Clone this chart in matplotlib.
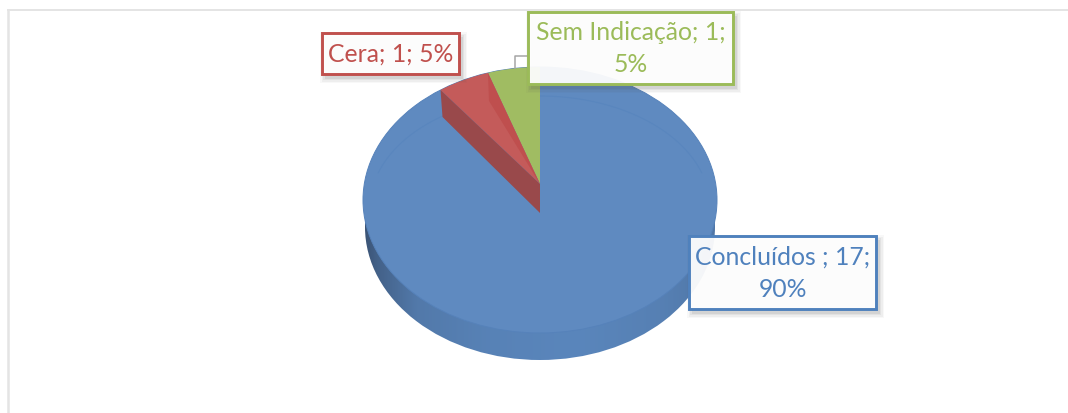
import numpy as np
import matplotlib
matplotlib.use('Agg')
import matplotlib.pyplot as plt
from matplotlib.patches import Ellipse, Polygon, Rectangle

# data, green and red run counterclockwise from 12 o'clock, blue is the rest
names = ['Sem Indicação', 'Cera', 'Concluídos ']
counts = [1, 1, 17]
percents = [5, 5, 90]
line_breaks = ['\n', ' ', '\n']

green = '#9BBB59'
red = '#C0504D'
blue = '#4F81BD'

cx, cy = 540, 200
rx, ry = 177, 133
depth = 27
foreshorten = 0.95  # slices look a bit narrower in the tilted view

plt.rcParams['font.family'] = ['Lato', 'DejaVu Sans']

fig = plt.figure(figsize=(10.68, 4.13), dpi=100)
ax = fig.add_axes([0, 0, 1, 1])
ax.set_xlim(0, 1068)
ax.set_ylim(413, 0)
ax.axis('off')


def rim(angle_deg):
    a = np.radians(angle_deg * foreshorten)
    return cx - rx * np.sin(a), cy - ry * np.cos(a)


# chart frame
ax.plot([8, 8], [413, 10], color='#e4e4e4', lw=1.8, solid_capstyle='butt')
ax.plot([7, 1068], [9.5, 9.5], color='#e4e4e4', lw=1.4, solid_capstyle='butt')

# side of the disc, darker on the left
band = Ellipse((cx, cy + depth), 2 * rx - 4, 2 * ry, fc='none', ec='none')
ax.add_patch(band)
grad = np.interp(np.linspace(0, 1, 256), [0, 0.04, 0.15, 0.35, 0.6, 0.85, 1], [0, 0.3, 0.75, 0.92, 1, 0.88, 0.7])
c_dark = np.array(matplotlib.colors.to_rgb('#3a5273'))
c_light = np.array(matplotlib.colors.to_rgb('#5a86bc'))
img = np.array([[c_dark + (c_light - c_dark) * g for g in grad]])
im = ax.imshow(img, extent=[cx - rx, cx + rx, cy + depth + ry, cy], aspect='auto', zorder=1)
im.set_clip_path(band)
ax.set_xlim(0, 1068)
ax.set_ylim(413, 0)

# top face
ax.add_patch(Ellipse((cx, cy), 2 * rx, 2 * ry, fc='#5f8ac0', ec='#5682ba', lw=0.7, zorder=2))

# faint inner rim
t = np.radians(np.linspace(-72, 72, 200))
ax.plot(cx + 170 * np.sin(t), 207 - 111 * np.cos(t), color='#5986be', lw=0.8, zorder=3)

# slices
a_green = percents[0] / 100 * 360
a_red = a_green + percents[1] / 100 * 360
apex = (cx, cy - 16)
low_apex = (cx, cy + 13)

arc_green = [rim(a) for a in np.linspace(0, a_green, 20)]
arc_red = [rim(a) for a in np.linspace(a_green, a_red, 20)]

ax.add_patch(Polygon(arc_green + [apex], fc='#a0bc62', ec='none', zorder=4))
ax.add_patch(Polygon(arc_red + [apex], fc='#c45b5a', ec='none', zorder=4))

p_g = arc_green[-1]
ax.add_patch(Polygon([p_g, (p_g[0] + 1, p_g[1] + 28), apex], fc='#bf4f4e', ec='none', zorder=5))
p_r = arc_red[-1]
ax.add_patch(Polygon([p_r, (p_r[0] + 2, p_r[1] + 27), low_apex, apex], fc='#99494b', ec='none', zorder=5))


def label(x0, y0, x1, y1, text, color):
    # soft shadow
    for grow, alpha in [(5, 0.04), (3.5, 0.06), (2, 0.08), (0.5, 0.10)]:
        ax.add_patch(Rectangle((x0 + 3 - grow, y0 + 4 - grow), x1 - x0 + 2 * grow, y1 - y0 + 2 * grow,
                               fc='#555555', ec='none', alpha=alpha, zorder=6))
    ax.add_patch(Rectangle((x0, y0), x1 - x0, y1 - y0, fc=(1, 1, 1, 0.94), ec=color, lw=2.1, zorder=7))
    ax.text((x0 + x1) / 2, (y0 + y1) / 2 + 0.5, text, color=color, fontsize=17.8, ha='center', va='center',
            linespacing=1.5, zorder=8)


def label_text(i):
    return f'{names[i]}; {counts[i]};{line_breaks[i]}{percents[i]}%'


# small leader behind the green label
ax.plot([528, 515, 515], [56, 56, 68], color='#a6a6a6', lw=1.1, zorder=5)

label(322, 33, 459, 74, label_text(1), red)
label(528, 12, 733, 84, label_text(0), green)
label(689, 236, 876, 309, label_text(2), blue)

fig.savefig('out.png', dpi=100)
